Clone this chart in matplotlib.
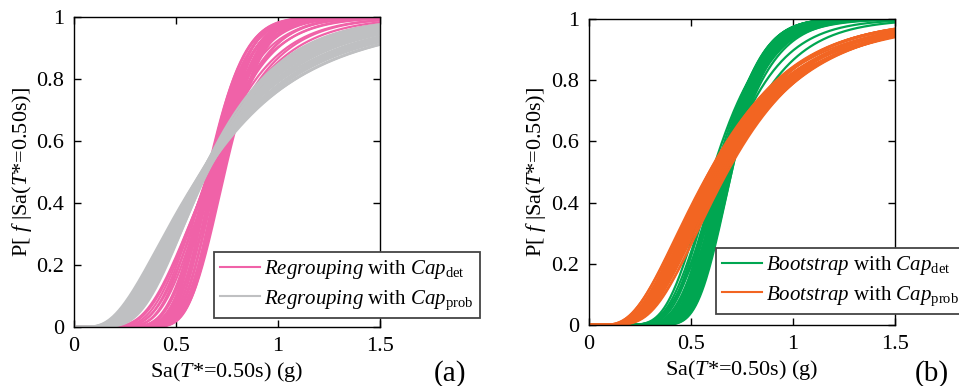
import math

import numpy as np
import matplotlib
matplotlib.use('Agg')
import matplotlib.pyplot as plt

plt.rcParams['font.family'] = ['Liberation Serif', 'DejaVu Serif']
plt.rcParams['mathtext.fontset'] = 'custom'
plt.rcParams['mathtext.rm'] = 'Liberation Serif'
plt.rcParams['mathtext.it'] = 'Liberation Serif:italic'

# fragility curves as (median Sa in g, log dispersion)
regroup_det_median = [0.655, 0.660, 0.665, 0.670, 0.675, 0.680, 0.685, 0.690, 0.695, 0.700,
                      0.705, 0.710, 0.715, 0.720, 0.725, 0.730, 0.735, 0.740, 0.660, 0.670,
                      0.680, 0.690, 0.700, 0.710, 0.660, 0.660, 0.665, 0.670, 0.675, 0.680,
                      0.685]
regroup_det_beta = [0.21, 0.20, 0.21, 0.19, 0.20, 0.21, 0.19, 0.20, 0.18, 0.19,
                    0.20, 0.18, 0.19, 0.18, 0.19, 0.18, 0.19, 0.19, 0.24, 0.26,
                    0.24, 0.27, 0.23, 0.25, 0.29, 0.32, 0.35, 0.38, 0.40, 0.30,
                    0.34]

regroup_prob_median = [0.625, 0.630, 0.628, 0.635, 0.640, 0.645, 0.650, 0.625, 0.632, 0.640,
                       0.648, 0.652, 0.655, 0.650, 0.645, 0.638, 0.632, 0.626, 0.650, 0.645,
                       0.655, 0.636, 0.630, 0.642, 0.630, 0.640, 0.635, 0.622]
regroup_prob_beta = [0.65, 0.62, 0.60, 0.64, 0.58, 0.62, 0.56, 0.55, 0.52, 0.50,
                     0.48, 0.46, 0.44, 0.42, 0.44, 0.46, 0.48, 0.50, 0.52, 0.58,
                     0.50, 0.54, 0.45, 0.52, 0.57, 0.60, 0.56, 0.59]

boot_det_median = [0.650, 0.655, 0.660, 0.665, 0.670, 0.675, 0.680, 0.685, 0.690, 0.695,
                   0.700, 0.700, 0.635, 0.645, 0.655, 0.665, 0.675, 0.685, 0.695, 0.620,
                   0.635, 0.650, 0.665, 0.680, 0.605, 0.625, 0.660, 0.680]
boot_det_beta = [0.225, 0.22, 0.215, 0.21, 0.21, 0.205, 0.20, 0.20, 0.195, 0.19,
                 0.19, 0.20, 0.25, 0.25, 0.245, 0.24, 0.235, 0.23, 0.225, 0.28,
                 0.28, 0.275, 0.27, 0.265, 0.31, 0.31, 0.33, 0.35]

boot_prob_median = [0.590, 0.590, 0.600, 0.600, 0.600, 0.610, 0.610, 0.610, 0.620, 0.620,
                    0.620, 0.630, 0.630, 0.630, 0.640, 0.640, 0.640, 0.650, 0.650, 0.660,
                    0.660, 0.670, 0.670, 0.680]
boot_prob_beta = [0.58, 0.54, 0.59, 0.55, 0.51, 0.57, 0.53, 0.49, 0.56, 0.52,
                  0.48, 0.55, 0.51, 0.47, 0.54, 0.50, 0.46, 0.53, 0.49, 0.52,
                  0.48, 0.50, 0.46, 0.48]

PINK = '#f062a8'
GREY = '#bfc0c2'
GREEN = '#00a651'
ORANGE = '#f26522'

sa = np.linspace(0.0, 1.5, 301)
erf = np.vectorize(math.erf)


def lognorm_cdf(x, median, beta):
	x = np.maximum(x, 1e-6)
	return 0.5 * (1.0 + erf(np.log(x / median) / (beta * math.sqrt(2.0))))


def draw_bundle(ax, medians, betas, color, label):
	for i, (m, b) in enumerate(zip(medians, betas)):
		ax.plot(sa, lognorm_cdf(sa, m, b), color=color, lw=1.6,
			label=label if i == 0 else None)


def style_axes(ax):
	ax.set_xlim(0, 1.5)
	ax.set_ylim(0, 1)
	ax.set_xticks([0, 0.5, 1, 1.5])
	ax.set_xticklabels(['0', '0.5', '1', '1.5'])
	ax.set_yticks([0, 0.2, 0.4, 0.6, 0.8, 1])
	ax.set_yticklabels(['0', '0.2', '0.4', '0.6', '0.8', '1'])
	ax.tick_params(direction='in', top=True, right=True, length=5, width=1,
		labelsize=16, pad=7)
	for s in ax.spines.values():
		s.set_linewidth(1.0)
	ax.set_xlabel(r'Sa($T$*=0.50s) (g)', fontsize=16, labelpad=3)
	ax.set_ylabel(r'P[ $f$ |Sa($T$*=0.50s)]', fontsize=16, labelpad=2)


fig = plt.figure(figsize=(9.59, 3.86), dpi=100)
ax1 = fig.add_axes([0.0772, 0.153, 0.319, 0.803])
ax2 = fig.add_axes([0.614, 0.158, 0.319, 0.793])

draw_bundle(ax1, regroup_det_median, regroup_det_beta, PINK,
	r'$Regrouping$ with $Cap_{\mathrm{det}}$')
draw_bundle(ax1, regroup_prob_median, regroup_prob_beta, GREY,
	r'$Regrouping$ with $Cap_{\mathrm{prob}}$')
draw_bundle(ax2, boot_det_median, boot_det_beta, GREEN,
	r'$Bootstrap$ with $Cap_{\mathrm{det}}$')
draw_bundle(ax2, boot_prob_median, boot_prob_beta, ORANGE,
	r'$Bootstrap$ with $Cap_{\mathrm{prob}}$')

for ax, anchor, tag, tagx in [(ax1, (0.458, 0.029), '(a)', 0.469), (ax2, (0.415, 0.036), '(b)', 0.972)]:
	style_axes(ax)
	leg = ax.legend(loc='lower left', bbox_to_anchor=anchor, fontsize=15,
		fancybox=False, framealpha=1, edgecolor='#444444', handlelength=1.9,
		handletextpad=0.2, borderpad=0.3, labelspacing=0.35, borderaxespad=0)
	leg.get_frame().set_linewidth(1.3)
	for line in leg.get_lines():
		line.set_linewidth(1.5)
	fig.text(tagx, 0.033, tag, fontsize=21, ha='center', va='center')

fig.savefig('out.png', dpi=100)
